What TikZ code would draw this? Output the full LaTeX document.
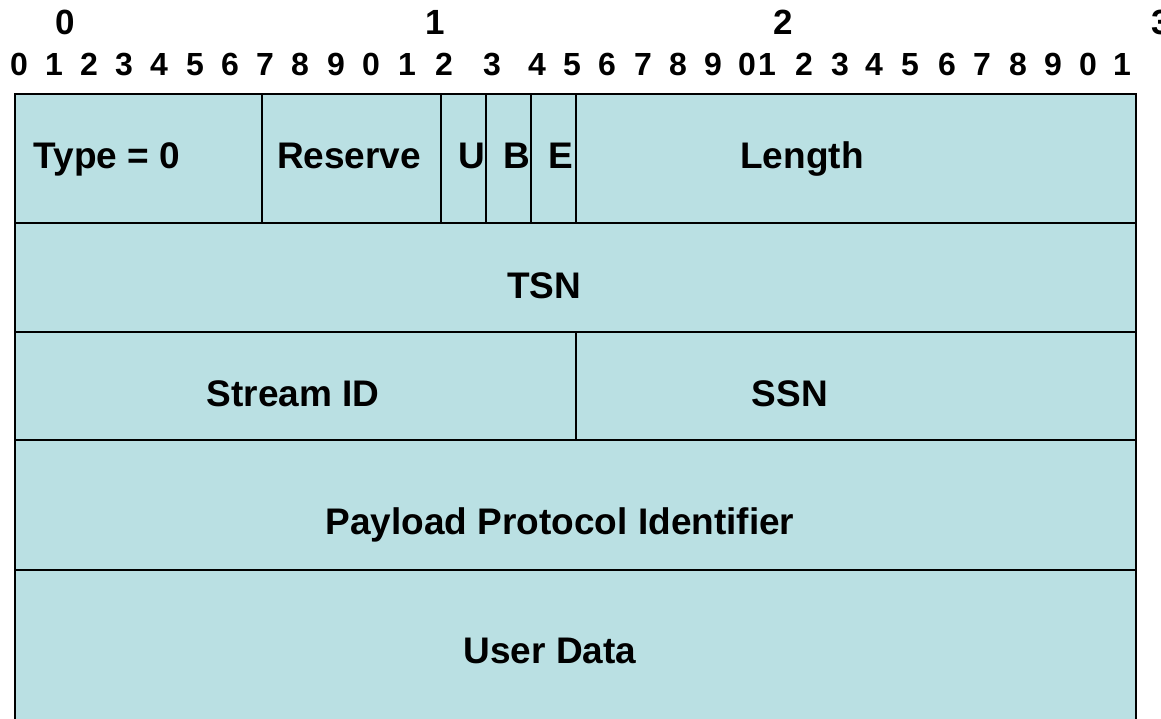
\documentclass[tikz,border=0pt]{standalone}
\usepackage{fontspec}
\setmainfont{Liberation Sans}
\definecolor{cellfill}{RGB}{186,224,227}
\begin{document}
\begin{tikzpicture}[x=1pt,y=-1pt,
  lbl/.style={font=\fontsize{37}{40}\selectfont\bfseries, inner sep=0pt, anchor=base},
  bitnum/.style={font=\fontsize{32}{34}\selectfont\bfseries, inner sep=0pt, anchor=base},
  octet/.style={font=\fontsize{35}{38}\selectfont\bfseries, inner sep=0pt, anchor=base},
  rulel/.style={line width=2pt, draw=black}]
\useasboundingbox (0,0) rectangle (1161,719);
% cells
\fill[cellfill] (15,94) rectangle (1136,719);
\draw[rulel] (15,719) -- (15,94) -- (1136,94) -- (1136,719);
\foreach \yy in {223,332,440,570} \draw[rulel] (15,\yy) -- (1136,\yy);
\foreach \xx in {262,441,486,531,576} \draw[rulel] (\xx,94) -- (\xx,223);
\draw[rulel] (576,332) -- (576,440);
% octet numbers
\node[octet] (o0) at (65,35) {0};
\node[octet] (o1) at (435,35) {1};
\node[octet] (o2) at (783,35) {2};
\node[octet] (o3) at (1161,35) {3};
% bit numbers
\foreach \xx/\t [count=\i] in {19/0,54/1,89/2,124/3,159/4,195/5,230/6,265/7,300/8,336/9,371/0,407/1,444/2,492/3,537/4,572/5,607/6,643/7,678/8,713/9,747/0,767/1,804/2,840/3,874/4,910/5,947/6,982/7,1018/8,1053/9,1088/0,1122/1}
  \node[bitnum] (b\i) at (\xx,76) {\t};
% labels
\node[lbl, anchor=base west] (type) at (33.5,168.3) {Type = 0};
\node[lbl] (reserve) at (349,168.3) {Reserve};
\node[lbl] (u) at (471.5,168.3) {U};
\node[lbl] (b) at (516.5,168.3) {B};
\node[lbl] (e) at (561,168.3) {E};
\node[lbl] (length) at (802,168.3) {Length};
\node[lbl] (tsn) at (544,298.3) {TSN};
\node[lbl] (sid) at (293,406) {Stream ID};
\node[lbl] (ssn) at (790,406) {SSN};
\node[lbl] (ppi) at (560,534) {Payload Protocol Identifier};
\node[lbl] (ud) at (550,663) {User Data};
\end{tikzpicture}
\end{document}
